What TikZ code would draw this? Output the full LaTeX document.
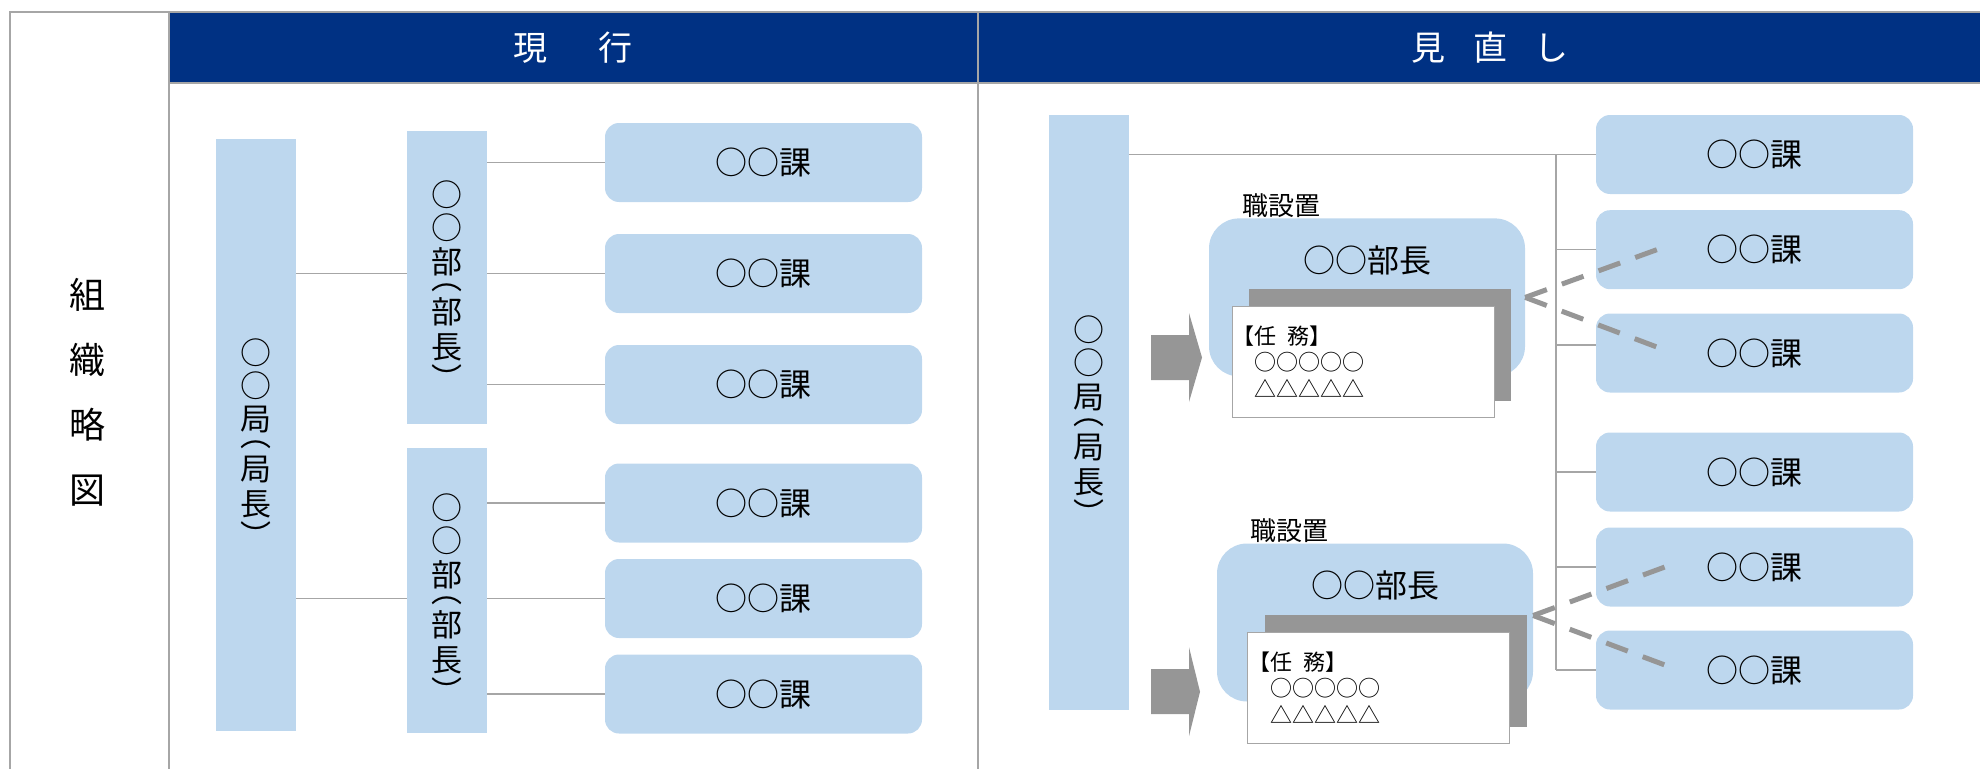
\documentclass[tikz,border=0pt]{standalone}
\usepackage{fontspec}
\setmainfont{Noto Sans CJK JP}
\usepackage{tikz}
\usetikzlibrary{positioning}

\definecolor{hdrblue}{RGB}{0,49,131}
\definecolor{boxblue}{RGB}{189,215,238}
\definecolor{linegray}{RGB}{166,166,166}
\definecolor{markgray}{RGB}{150,150,150}

\tikzset{
  bar/.style={fill=boxblue, minimum width=80pt, inner sep=0pt},
  tate/.style={inner sep=0pt, align=center, font=\fontsize{31}{33}\selectfont},
  ka/.style={fill=boxblue, rounded corners=14pt, minimum width=317pt,
    minimum height=79pt, font=\fontsize{32}{36}\selectfont},
  bucho/.style={fill=boxblue, rounded corners=30pt, minimum width=316pt, minimum height=158pt},
  shadowbox/.style={fill=markgray, minimum width=262pt, minimum height=112pt},
  card/.style={fill=white, draw=linegray, line width=1pt, minimum width=262pt, minimum height=111pt},
  cardtxt/.style={align=left, inner sep=0pt, font=\fontsize{22}{26.5}\selectfont},
  conn/.style={draw=linegray, line width=1.4pt},
  dashconn/.style={draw=markgray, line width=5pt, dash pattern=on 23pt off 16pt},
  blockarrow/.style={fill=markgray},
}

\begin{document}
\begin{tikzpicture}[x=1pt, y=-1pt]
      \useasboundingbox (0,0) rectangle (1980,768);
      \fill[hdrblue] (169,12) rectangle (1990,83);
      \draw[linegray, line width=2pt] (10,780) -- (10,12) -- (1990,12);
      \draw[linegray, line width=2pt] (169,12) -- (169,780);
      \draw[linegray, line width=2pt] (978,12) -- (978,780);
      \draw[linegray, line width=2pt] (169,83) -- (1990,83);

      \node[font=\fontsize{34}{40}\selectfont, text=white] (hd1) at (573,48) {現\hspace{1.5em}行};
      \node[font=\fontsize{34}{40}\selectfont, text=white] (hd2) at (1490,48) {見\hspace{0.8em}直\hspace{0.8em}し};
      \node[font=\fontsize{36}{65}\selectfont, align=center] (title) at (87,392) {組\\織\\略\\図};

      \node[bar, minimum height=592pt] (kyoku1) at (256,435) {};
      \node[tate] (kyoku1-t) at ([yshift=-8pt]kyoku1.center) {○\\[0pt]○\\[0.5pt]局\\[-17pt]︵\\[1pt]局\\[2pt]長\\[-1pt]︶};
      \node[bar, minimum height=293pt] (bu1) at (447,277.5) {};
      \node[tate] (bu1-t) at ([yshift=-8pt]bu1.center) {○\\[0pt]○\\[0.5pt]部\\[-17pt]︵\\[1pt]部\\[2pt]長\\[-1pt]︶};
      \node[bar, minimum height=285pt] (bu2) at (447,590.5) {};
      \node[tate] (bu2-t) at ([yshift=-8pt]bu2.center) {○\\[0pt]○\\[0.5pt]部\\[-17pt]︵\\[1pt]部\\[2pt]長\\[-1pt]︶};
      \node[ka] (ka1) at (763.5,162.5) {○○課};
      \node[ka] (ka2) at (763.5,273.5) {○○課};
      \node[ka] (ka3) at (763.5,384.5) {○○課};
      \node[ka] (ka4) at (763.5,503) {○○課};
      \node[ka] (ka5) at (763.5,598.5) {○○課};
      \node[ka] (ka6) at (763.5,694) {○○課};
      \draw[conn] (kyoku1.east |- ka2) -- (bu1.west |- ka2);
      \draw[conn] (kyoku1.east |- ka5) -- (bu2.west |- ka5);
      \draw[conn] (bu1.east |- ka1) -- (ka1.west);
      \draw[conn] (bu1.east |- ka2) -- (ka2.west);
      \draw[conn] (bu1.east |- ka3) -- (ka3.west);
      \draw[conn] (bu2.east |- ka4) -- (ka4.west);
      \draw[conn] (bu2.east |- ka5) -- (ka5.west);
      \draw[conn] (bu2.east |- ka6) -- (ka6.west);

      \node[bar, minimum height=595pt] (kyoku2) at (1088.5,412.5) {};
      \node[tate] (kyoku2-t) at ([yshift=-8pt]kyoku2.center) {○\\[0pt]○\\[0.5pt]局\\[-17pt]︵\\[1pt]局\\[2pt]長\\[-1pt]︶};
      \node[ka] (kb1) at (1754.5,154.5) {○○課};
      \node[ka] (kb2) at (1754.5,249.7) {○○課};
      \node[ka] (kb3) at (1754.5,353) {○○課};
      \node[ka] (kb4) at (1754.5,472) {○○課};
      \node[ka] (kb5) at (1754.5,567) {○○課};
      \node[ka] (kb6) at (1754.5,670) {○○課};
      \coordinate (trunk) at (1556,154.5);
      \coordinate (t3) at ([yshift=8pt]kb3.west);
      \draw[conn] (kyoku2.east |- kb1) -- (kb1.west);
      \draw[conn] (trunk) -- (trunk |- kb6);
      \draw[conn] (trunk |- kb2) -- (kb2.west);
      \draw[conn] (t3 -| trunk) -- (t3);
      \draw[conn] (trunk |- kb4) -- (kb4.west);
      \draw[conn] (trunk |- kb5) -- (kb5.west);
      \draw[conn] (trunk |- kb6) -- (kb6.west);

      \node[bucho] (bucho1) at (1367,297.4) {};
      \node[anchor=base west, inner sep=0pt, font=\fontsize{26}{30}\selectfont] (shoku1) at ([xshift=33pt,yshift=3pt]bucho1.north west) {職設置};
      \node[font=\fontsize{32}{36}\selectfont] (name1) at ([yshift=-42pt]bucho1.north) {○○部長};
      \node[shadowbox] (sh1) at (1380,345) {};
      \node[card] (card1) at (1363,361.5) {};
      \node[cardtxt, anchor=west] (txt1) at ([xshift=1pt]card1.west) {【任\enspace 務】\\　○○○○○\\　△△△△△};
      \fill[blockarrow, shift={(1151,357.5)}] (0,-22.5) -- (38,-22.5) -- (38,-44.5) -- (51,0) -- (38,44.5) -- (38,22.5) -- (0,22.5) -- cycle;

      \node[bucho] (bucho2) at (1375,622.5) {};
      \node[anchor=base west, inner sep=0pt, font=\fontsize{26}{30}\selectfont] (shoku2) at ([xshift=33pt,yshift=3pt]bucho2.north west) {職設置};
      \node[font=\fontsize{32}{36}\selectfont] (name2) at ([yshift=-42pt]bucho2.north) {○○部長};
      \node[shadowbox] (sh2) at (1395.7,670.7) {};
      \node[card] (card2) at (1378.8,687.5) {};
      \node[cardtxt, anchor=west] (txt2) at ([xshift=1pt]card2.west) {【任\enspace 務】\\　○○○○○\\　△△△△△};
      \fill[blockarrow, shift={(1151,691.7)}] (0,-22.5) -- (38,-22.5) -- (38,-44.5) -- (49,0) -- (38,44.5) -- (38,22.5) -- (0,22.5) -- cycle;

      \draw[dashconn] (bucho1.east) -- ([xshift=61pt]kb2.west);
      \draw[dashconn] (bucho1.east) -- ([xshift=61pt,yshift=6pt]kb3.west);
      \draw[dashconn] ([yshift=7pt]bucho2.east) -- ([xshift=69pt]kb5.west);
      \draw[dashconn] ([yshift=7pt]bucho2.east) -- ([xshift=69pt,yshift=5pt]kb6.west);
    \end{tikzpicture}
\end{document}
